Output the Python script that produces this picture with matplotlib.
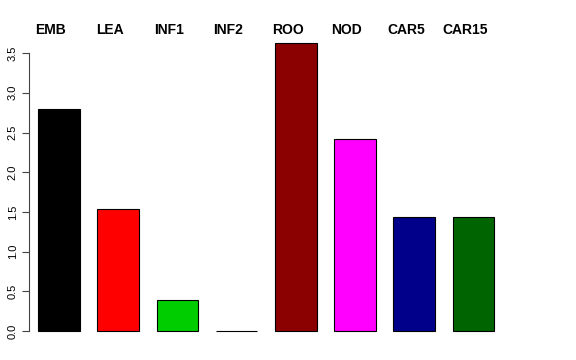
import matplotlib
matplotlib.use("Agg")
import matplotlib.pyplot as plt

categories = ["EMB", "LEA", "INF1", "INF2", "ROO", "NOD", "CAR5", "CAR15"]
values = [2.80, 1.54, 0.39, 0.0, 3.63, 2.42, 1.44, 1.44]
colors = ["#000000", "#FF0000", "#00CD00", "#0000FF", "#8B0000", "#FF00FF", "#00008B", "#006400"]
yticks = [0.0, 0.5, 1.0, 1.5, 2.0, 2.5, 3.0, 3.5]

plt.rcParams['font.family'] = ['Liberation Sans', 'DejaVu Sans']

W, H = 576, 360
fig = plt.figure(figsize=(W/100, H/100), dpi=100)
ax_left, ax_right, ax_top, ax_bot = 29, 512, 25, 345
ax = fig.add_axes([ax_left/W, (H-ax_bot)/H, (ax_right-ax_left)/W, (ax_bot-ax_top)/H])

px_per_x = 59.2
c0 = 59
ax.set_xlim((ax_left-c0)/px_per_x, (ax_right-c0)/px_per_x)
px_per_y = 79.4
y0 = 331
ax.set_ylim(-(ax_bot-y0)/px_per_y, (y0-ax_top)/px_per_y)

x = list(range(len(categories)))
ax.bar(x, values, width=0.7, color=colors, edgecolor="#000000", linewidth=0.8)

for xi, name in zip(x, categories):
    ax.text(xi - 0.14, (y0-29.5)/px_per_y, name, ha="center", va="center",
            fontsize=10, fontweight="bold")

for s in ["top", "right", "bottom"]:
    ax.spines[s].set_visible(False)
ax.spines["left"].set_bounds(0, 3.5)
ax.spines["left"].set_color("#444444")
ax.set_xticks([])
ax.set_yticks(yticks)
ax.set_yticklabels([f"{v:.1f}" for v in yticks], rotation=90, va="center", fontsize=8)
ax.tick_params(axis="y", length=5, width=0.8, color="#444444", pad=3)

fig.savefig("out.png", dpi=100)
